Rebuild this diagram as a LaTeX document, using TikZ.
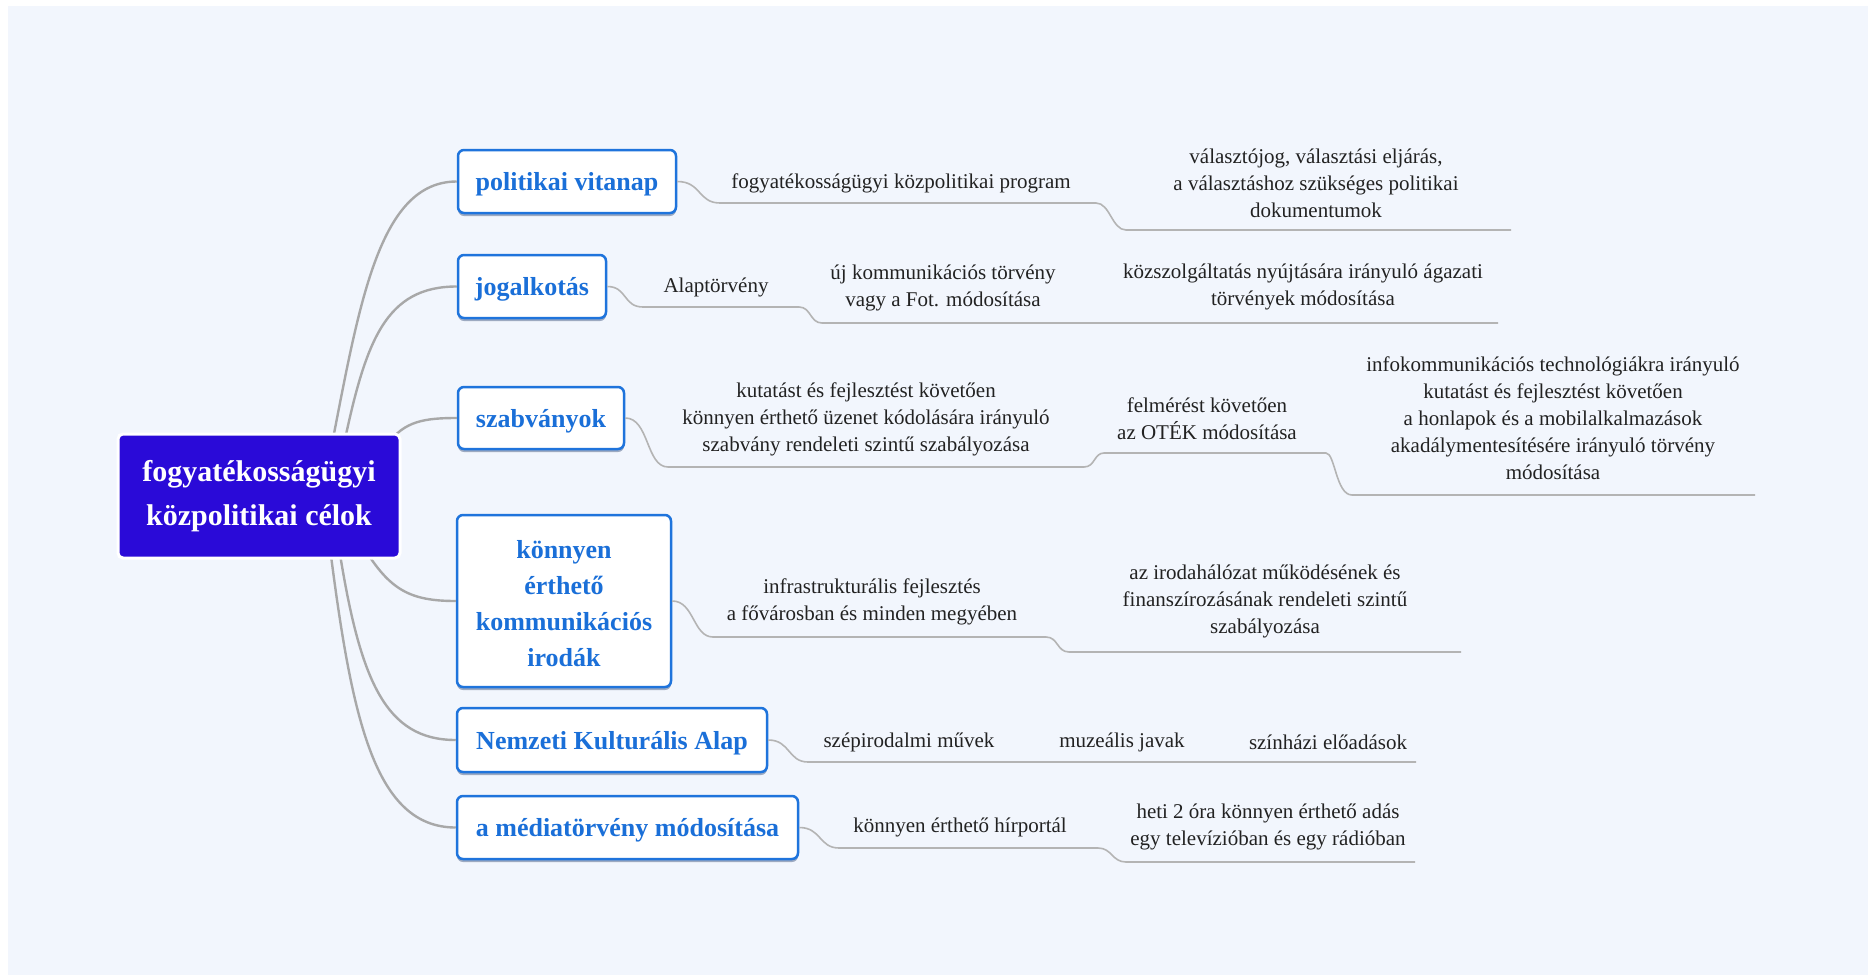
\documentclass[tikz,border=0pt]{standalone}
\usepackage{fontspec}
\setmainfont{LiberationSerif}[Extension=.ttf, UprightFont=*-Regular, BoldFont=*-Bold, ItalicFont=*-Italic, BoldItalicFont=*-BoldItalic]
\usetikzlibrary{shadows}
\definecolor{bgc}{HTML}{F2F6FD}
\definecolor{centralc}{HTML}{2A0AD8}
\definecolor{boxblue}{HTML}{1F74DC}
\definecolor{textblue}{HTML}{1A6FD8}
\definecolor{branchc}{HTML}{A8A8A8}
\definecolor{sublinec}{HTML}{B4B4B4}
\definecolor{txtc}{HTML}{222222}
\definecolor{shadowc}{HTML}{7A8AA8}
\tikzset{
  topicbox/.style={draw=boxblue, line width=2.5pt, fill=white, rounded corners=6pt,
    text=textblue, font=\fontsize{26}{36}\selectfont\bfseries, align=center,
    inner sep=0pt, anchor=center,
    drop shadow={shadow xshift=0pt, shadow yshift=-3pt, fill=shadowc, opacity=0.7}},
  oneline/.style={text height=24pt, text depth=6pt},
  centralbox/.style={draw=white, line width=3pt, fill=centralc, rounded corners=5pt,
    text=white, font=\fontsize{30}{44}\selectfont\bfseries, align=center,
    inner sep=0pt, minimum width=282pt, minimum height=124pt},
  leaf/.style={text=txtc, font=\fontsize{21}{27}\selectfont, align=center, inner sep=0pt, anchor=center},
  branch/.style={draw=branchc, line width=2.4pt},
  subline/.style={draw=sublinec, line width=1.6pt},
}
\begin{document}
\begin{tikzpicture}[x=1pt,y=-1pt]
\useasboundingbox (0,0) rectangle (1868,975);
\fill[white] (0,0) rectangle (1868,975);
\fill[bgc] (8,6) rectangle (1868,975);

% start coordinates of the branches (hidden under the central box)
\coordinate (bpol) at (332,444);
\coordinate (bjog) at (344,444);
\coordinate (bsza) at (388,444);
\coordinate (bkon) at (364,548);
\coordinate (bnem) at (339,548);
\coordinate (bmed) at (330,548);

% topics
\node[topicbox, oneline, minimum width=218pt, minimum height=63pt] (pol) at (567,181.5) {politikai vitanap};
\node[topicbox, oneline, minimum width=148pt, minimum height=63pt] (jog) at (532,286.5) {jogalkotás};
\node[topicbox, oneline, minimum width=166pt, minimum height=62pt] (sza) at (541,418) {szabványok};
\node[topicbox, minimum width=214pt, minimum height=172pt] (kon) at (564,601) {\rule{0pt}{22.5pt}könnyen\\érthető\\kommunikációs\\irodák};
\node[topicbox, oneline, minimum width=310pt, minimum height=64pt] (nem) at (612,740) {Nemzeti Kulturális Alap};
\node[topicbox, oneline, minimum width=341pt, minimum height=63pt] (med) at (627.5,827.5) {a médiatörvény módosítása};

% branches
\draw[branch] (bpol) .. controls (360,300) and (380,181.5) .. (pol.west);
\draw[branch] (bjog) .. controls (366,340) and (386,286.5) .. (jog.west);
\draw[branch] (bsza) .. controls (404,421) and (425,418) .. (sza.west);
\draw[branch] (bkon) .. controls (390,590) and (410,601) .. (kon.west);
\draw[branch] (bnem) .. controls (360,680) and (385,740) .. (nem.west);
\draw[branch] (bmed) .. controls (352,720) and (375,827.5) .. (med.west);

% central
\node[centralbox] (cen) at (259,496) {fogyatékosságügyi\\közpolitikai célok};

% leaves
\node[leaf] (p1) at (901,183) {fogyatékosságügyi közpolitikai program};
\node[leaf] (p2) at (1316,183) {választójog, választási eljárás,\\a választáshoz szükséges politikai\\dokumentumok};

\node[leaf] (j1) at (716,287) {Alaptörvény};
\node[leaf] (j2) at (943,287.5) {új kommunikációs törvény\\vagy a Fot. módosítása};
\node[leaf] (j3) at (1303,286.5) {közszolgáltatás nyújtására irányuló ágazati\\törvények módosítása};

\node[leaf] (s1) at (866,419) {kutatást és fejlesztést követően\\könnyen érthető üzenet kódolására irányuló\\szabvány rendeleti szintű szabályozása};
\node[leaf] (s2) at (1207,419) {felmérést követően\\az OTÉK módosítása};
\node[leaf] (s3) at (1553,418) {infokommunikációs technológiákra irányuló\\kutatást és fejlesztést követően\\a honlapok és a mobilalkalmazások\\akadálymentesítésére irányuló törvény\\módosítása};

\node[leaf] (k1) at (872,602) {infrastrukturális fejlesztés\\a fővárosban és minden megyében};
\node[leaf] (k2) at (1265,601) {az irodahálózat működésének és\\finanszírozásának rendeleti szintű\\szabályozása};

\node[leaf] (n1) at (909,742) {szépirodalmi művek};
\node[leaf] (n2) at (1122,742) {muzeális javak};
\node[leaf] (n3) at (1328,742) {színházi előadások};

\node[leaf] (m1) at (960,827) {könnyen érthető hírportál};
\node[leaf] (m2) at (1268,827) {heti 2 óra könnyen érthető adás\\egy televízióban és egy rádióban};

% underline coordinates
\coordinate (pa) at (720,203);   \coordinate (pb) at (1096,203);
\coordinate (pc) at (1126,230);  \coordinate (pd) at (1511,230);
\coordinate (ja) at (643,307);   \coordinate (jb) at (799,307);
\coordinate (jc) at (822,323);   \coordinate (jd) at (1498,323);
\coordinate (sa) at (668,467);   \coordinate (sb) at (1084,467);
\coordinate (sc) at (1104,453);  \coordinate (sd) at (1326,453);
\coordinate (se) at (1352,495);  \coordinate (sf) at (1755,495);
\coordinate (ka) at (713,637);   \coordinate (kb) at (1046,637);
\coordinate (kc) at (1069,652);  \coordinate (kd) at (1461,652);
\coordinate (na) at (808,762);   \coordinate (nb) at (1416,762);
\coordinate (ma) at (839,848);   \coordinate (mb) at (1098,848);
\coordinate (mc) at (1126,862);  \coordinate (md) at (1415,862);

\draw[subline] (pol.east) .. controls +(24,0) and +(-22,0) .. (pa) -- (pb)
  .. controls +(14,0) and +(-14,0) .. (pc) -- (pd);
\draw[subline] (jog.east) .. controls +(20,0) and +(-20,0) .. (ja) -- (jb)
  .. controls +(12,0) and +(-12,0) .. (jc) -- (jd);
\draw[subline] (sza.east) .. controls +(24,0) and +(-22,0) .. (sa) -- (sb)
  .. controls +(11,0) and +(-10,0) .. (sc) -- (sd)
  .. controls +(9,0) and +(-16,0) .. (se) -- (sf);
\draw[subline] (kon.east) .. controls +(22,0) and +(-20,0) .. (ka) -- (kb)
  .. controls +(12,0) and +(-12,0) .. (kc) -- (kd);
\draw[subline] (nem.east) .. controls +(22,0) and +(-20,0) .. (na) -- (nb);
\draw[subline] (med.east) .. controls +(22,0) and +(-20,0) .. (ma) -- (mb)
  .. controls +(14,0) and +(-14,0) .. (mc) -- (md);
\end{tikzpicture}
\end{document}
